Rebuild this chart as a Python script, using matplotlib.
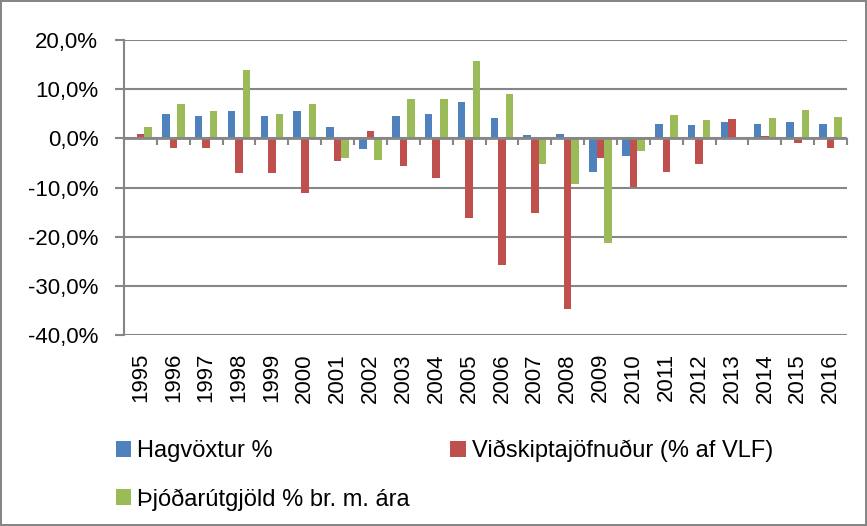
import numpy as np
import matplotlib.pyplot as plt

plt.rcParams['font.family'] = ['Liberation Sans', 'DejaVu Sans']

# gögn lesin af myndinni
years = [str(y) for y in range(1995, 2017)]
hagvoxtur = [0.1, 4.9, 4.6, 5.5, 4.6, 5.6, 2.4, -2.2, 4.6, 5.0, 7.4, 4.1, 0.6, 0.9,
             -6.9, -3.5, 3.0, 2.7, 3.3, 3.0, 3.4, 2.9]
vidskipti = [0.9, -2.0, -2.0, -7.0, -7.0, -11.1, -4.6, 1.4, -5.6, -8.0, -16.1, -25.8,
             -15.2, -34.7, -3.9, -9.9, -6.9, -5.2, 3.9, 0.5, -0.9, -1.9]
thjodarutgjold = [2.4, 6.9, 5.5, 13.9, 5.0, 6.9, -4.0, -4.5, 8.0, 8.0, 15.8, 9.1,
                  -5.2, -9.3, -21.3, -2.5, 4.7, 3.8, 0.2, 4.1, 5.8, 4.3]
labels = ['Hagvöxtur %', 'Viðskiptajöfnuður (% af VLF)', 'Þjóðarútgjöld % br. m. ára']
colors = ['#4F81BD', '#C0504D', '#9BBB59']
yticks = [20, 10, 0, -10, -20, -30, -40]

fig = plt.figure(figsize=(8.67, 5.26), dpi=100)
fig.patch.set_edgecolor('#868686')
fig.patch.set_linewidth(1.5)
ax = fig.add_axes([0.143, 0.363, 0.834, 0.561])

x = np.arange(len(years))
w = 0.23
bars = []
for i, (vals, lab, c) in enumerate(zip([hagvoxtur, vidskipti, thjodarutgjold], labels, colors)):
    bars.append(ax.bar(x + (i - 1) * w, vals, w, color=c, label=lab, zorder=3))

ax.set_ylim(-40, 20)
ax.set_xlim(-0.5, len(years) - 0.5)
ax.set_yticks(yticks)
ax.set_yticklabels([f'{v:.1f}%'.replace('.', ',') for v in yticks], fontsize=16)
ax.yaxis.grid(True, color='#868686', linewidth=1.5, zorder=0)
ax.axhline(0, color='#868686', linewidth=2, zorder=4)
ax.vlines(np.arange(len(years) + 1) - 0.5, -1.3, 0, color='#868686', linewidth=1.5,
          zorder=4, clip_on=False)

ax.set_xticks(x)
ax.set_xticklabels(years, rotation=90, fontsize=16)
ax.tick_params(axis='x', length=0, pad=13)
ax.tick_params(axis='y', length=6.5, color='#868686', width=1.5, pad=12)
for s in ['top', 'right', 'bottom']:
    ax.spines[s].set_visible(False)
ax.spines['left'].set_color('#868686')
ax.spines['left'].set_linewidth(1.5)

# röðin: tvær í fyrstu línu, ein í annarri
order = [0, 2, 1]
fig.legend([bars[i] for i in order], [labels[i] for i in order],
           loc='upper left', bbox_to_anchor=(116 / 867, 0.164), ncol=2, frameon=False,
           fontsize=17, borderpad=0, borderaxespad=0,
           handlelength=0.65, handleheight=0.65, handletextpad=0.26,
           columnspacing=1.7, labelspacing=1.11)

plt.savefig('out.png', dpi=100)
